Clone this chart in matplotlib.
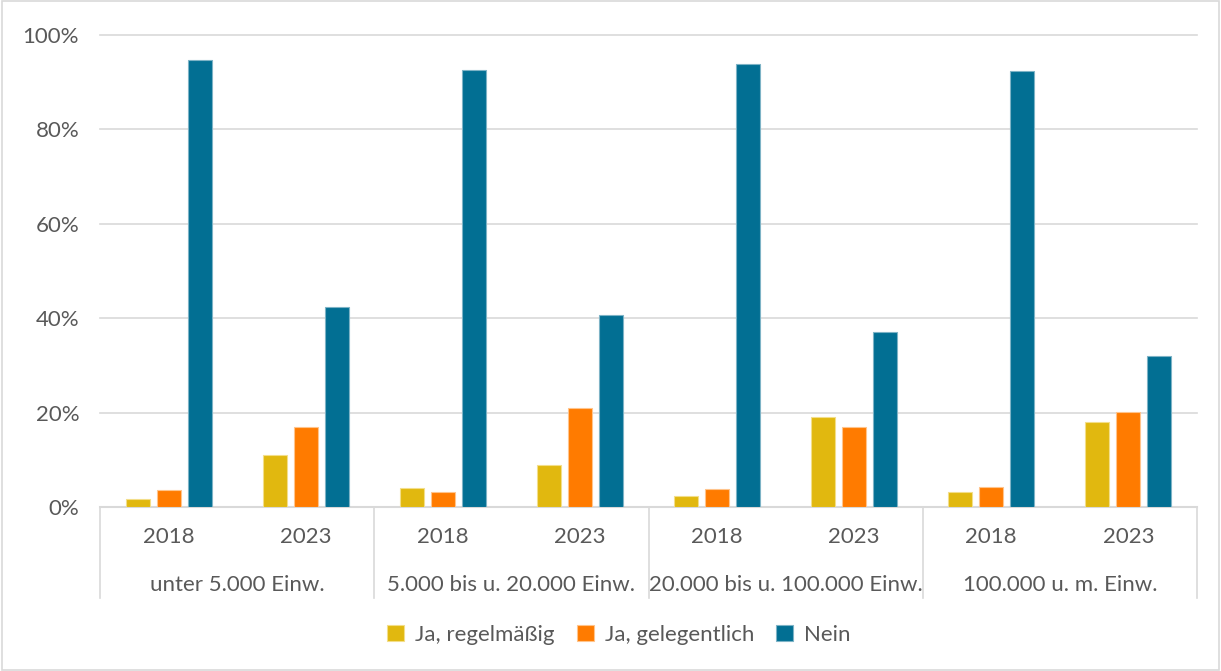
import numpy as np
import matplotlib
matplotlib.use("Agg")
import matplotlib.pyplot as plt
from matplotlib.patches import Rectangle
from matplotlib.ticker import PercentFormatter

# survey answers by municipality size, two survey years each
groups = ["unter 5.000 Einw.", "5.000 bis u. 20.000 Einw.",
          "20.000 bis u. 100.000 Einw.", "100.000 u. m. Einw."]
years = ["2018", "2023"]
series = ["Ja, regelmäßig", "Ja, gelegentlich", "Nein"]

regelmaessig = [1.7, 11.0, 4.0, 8.9, 2.3, 19.1, 3.2, 18.0]
gelegentlich = [3.6, 16.9, 3.2, 21.0, 3.8, 16.9, 4.2, 20.1]
nein = [94.7, 42.4, 92.6, 40.7, 93.9, 37.1, 92.4, 32.0]

colors = ["#E1B80F", "#FF7B00", "#026F93"]
edges = ["#F3DE8A", "#FFC48C", "#7DB3C6"]
text_col = "#595959"
grid_col = "#D9D9D9"
fs = 16

plt.rcParams["font.family"] = ["Lato", "DejaVu Sans"]

fig = plt.figure(figsize=(12.21, 6.71), dpi=100)
ax = fig.add_axes([100 / 1221, 164 / 671, 1097 / 1221, 472 / 671])

x = np.arange(len(regelmaessig))
w = 0.175
step = 0.226
for i, vals in enumerate([regelmaessig, gelegentlich, nein]):
    ax.bar(x + (i - 1) * step, vals, w, color=colors[i], edgecolor=edges[i],
           linewidth=0.8, label=series[i], zorder=3)

ax.set_xlim(-0.5, len(x) - 0.5)
ax.set_ylim(0, 100)
ax.set_yticks(np.arange(0, 101, 20))
ax.yaxis.set_major_formatter(PercentFormatter(decimals=0))
ax.grid(axis="y", color=grid_col, linewidth=1.2, zorder=0)
ax.set_axisbelow(True)
for g in ax.get_ygridlines():
    g.set_clip_on(False)
for s in ["left", "right", "top"]:
    ax.spines[s].set_visible(False)
ax.spines["bottom"].set_color(grid_col)
ax.spines["bottom"].set_linewidth(1.5)
ax.tick_params(axis="y", length=0, pad=15, labelsize=fs, labelcolor=text_col)
ax.set_xticks([])

# two-level category axis
trans = ax.get_xaxis_transform()
for k in range(len(x)):
    ax.text(x[k], -0.064, years[k % 2], transform=trans, ha="center",
            va="center", fontsize=fs, color=text_col)
for gi, name in enumerate(groups):
    ax.text(2 * gi + 0.5, -0.165, name, transform=trans, ha="center",
            va="center", fontsize=fs, color=text_col)
for b in np.arange(-0.5, len(x), 2):
    ax.plot([b, b], [0, -0.193], transform=trans, color=grid_col,
            linewidth=1.2, clip_on=False)

fig.legend(loc="center", bbox_to_anchor=(0.507, 1 - 635 / 671), ncol=3,
           frameon=False, fontsize=fs, handlelength=0.75, handleheight=0.75,
           columnspacing=1.0, handletextpad=0.5, labelcolor=text_col)

fig.patches.append(Rectangle((0.002, 0.002), 0.996, 0.996, transform=fig.transFigure,
                             fill=False, edgecolor=grid_col, linewidth=1.2))

fig.savefig("out.png", dpi=100)
